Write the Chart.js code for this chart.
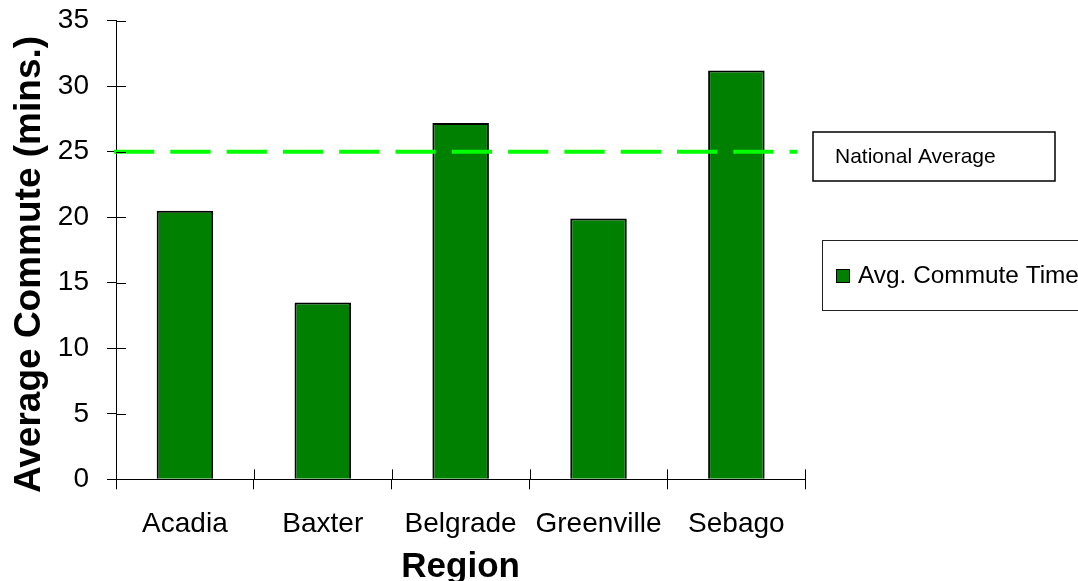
<!DOCTYPE html>
<html>
<head>
<meta charset="utf-8">
<title>Average Commute by Region</title>
<script src="https://cdn.jsdelivr.net/npm/chart.js@4/dist/chart.umd.min.js"></script>
<style>
  html, body { margin: 0; padding: 0; background: #ffffff; }
  #wrap { width: 1078px; height: 581px; position: relative; }
</style>
</head>
<body>
<div id="wrap"><canvas id="chart" width="1078" height="581"></canvas></div>
<script>
// Regions and their average one-way commute, in minutes
const regions = ['Acadia', 'Baxter', 'Belgrade', 'Greenville', 'Sebago'];
const commuteMinutes = [20.5, 13.5, 27.2, 19.9, 31.2];

// Reference level for the dashed line
const nationalAverage = 25;

// Value axis range and step
const yMin = 0;
const yMax = 35;
const yStep = 5;

// Titles and legend text
const xTitle = 'Region';
const yTitle = 'Average Commute (mins.)';
const seriesLabel = 'Avg. Commute Time';
const averageLabel = 'National Average';

const FONT = '"Liberation Sans", Arial, Helvetica, sans-serif';
const BAR_FILL = '#008000';
const LINE_GREEN = '#00ff00';

// Draws the cross-through halves of the tick marks, the national
// average line, the axis titles and the two legend boxes.
const decorations = {
  id: 'decorations',
  afterDatasetsDraw(chart) {
    const { ctx, chartArea, scales } = chart;
    const y = scales.y;
    const yAvg = y.getPixelForValue(nationalAverage);
    ctx.save();
    ctx.strokeStyle = LINE_GREEN;
    ctx.lineWidth = 4;
    ctx.lineCap = 'butt';
    ctx.setLineDash([40.3, 16]);
    ctx.beginPath();
    ctx.moveTo(chartArea.left - 2, yAvg);
    ctx.lineTo(chartArea.right - 8, yAvg);
    ctx.stroke();
    ctx.restore();
  },
  afterDraw(chart) {
    const { ctx, chartArea, scales } = chart;
    const x = scales.x;
    const y = scales.y;
    ctx.save();

    // inner halves of the tick marks
    ctx.strokeStyle = '#000';
    ctx.lineWidth = 1;
    ctx.beginPath();
    y.ticks.forEach(t => {
      const py = Math.round(y.getPixelForValue(t.value)) + 0.5;
      ctx.moveTo(chartArea.left, py);
      ctx.lineTo(chartArea.left + 10, py);
    });
    for (let i = 0; i <= regions.length; i++) {
      const px = Math.round(x.getPixelForValue(i - 0.5)) + 0.5;
      ctx.moveTo(px, chartArea.bottom);
      ctx.lineTo(px, chartArea.bottom - 10);
    }
    ctx.stroke();

    // axis titles
    ctx.fillStyle = '#000';
    ctx.font = 'bold 35px ' + FONT;
    ctx.textAlign = 'center';
    ctx.textBaseline = 'alphabetic';
    ctx.fillText(xTitle, (chartArea.left + chartArea.right) / 2, 576.5);

    ctx.save();
    ctx.translate(40, 264.5);
    ctx.rotate(-Math.PI / 2);
    ctx.font = 'bold 37px ' + FONT;
    ctx.fillText(yTitle, 0, 0);
    ctx.restore();

    // legend: national average
    ctx.textAlign = 'left';
    ctx.lineWidth = 1.5;
    ctx.strokeStyle = '#000';
    ctx.fillStyle = '#fff';
    ctx.fillRect(813, 132, 242, 49);
    ctx.strokeRect(813, 132, 242, 49);
    ctx.fillStyle = '#000';
    ctx.font = '21px ' + FONT;
    ctx.fillText(averageLabel, 835, 162.5);

    // legend: bar series
    ctx.lineWidth = 1;
    ctx.strokeStyle = '#222';
    ctx.fillStyle = '#fff';
    ctx.fillRect(822.5, 240.5, 300, 70);
    ctx.strokeRect(822.5, 240.5, 300, 70);
    ctx.fillStyle = BAR_FILL;
    ctx.fillRect(836.5, 269.5, 13, 13);
    ctx.strokeStyle = '#000';
    ctx.strokeRect(836.5, 269.5, 13, 13);
    ctx.fillStyle = '#000';
    ctx.font = '24.4px ' + FONT;
    ctx.fillText(seriesLabel, 858, 282.5);

    ctx.restore();
  }
};

new Chart(document.getElementById('chart'), {
  type: 'bar',
  data: {
    labels: regions,
    datasets: [{
      label: seriesLabel,
      data: commuteMinutes,
      backgroundColor: BAR_FILL,
      borderColor: '#000',
      borderWidth: 2,
      barPercentage: 0.41,
      categoryPercentage: 1
    }]
  },
  options: {
    responsive: false,
    animation: false,
    devicePixelRatio: 1,
    layout: { padding: { left: 0, top: 20.7, right: 272.7, bottom: 0 } },
    plugins: {
      legend: { display: false },
      tooltip: { enabled: false },
      title: { display: false }
    },
    scales: {
      x: {
        offset: true,
        grid: {
          offset: true,
          drawOnChartArea: false,
          drawTicks: true,
          tickLength: 10,
          color: '#000',
          lineWidth: 1
        },
        border: { display: true, color: '#000', width: 1 },
        ticks: {
          color: '#000',
          font: { family: FONT, size: 28 },
          padding: 18,
          maxRotation: 0,
          autoSkip: false
        },
        afterFit(scale) {
          scale.height = 101.7;
          scale.paddingLeft = 0;
          scale.paddingRight = 0;
        }
      },
      y: {
        min: yMin,
        max: yMax,
        grid: {
          drawOnChartArea: false,
          drawTicks: true,
          tickLength: 9,
          color: '#000',
          lineWidth: 1
        },
        border: { display: true, color: '#000', width: 1 },
        ticks: {
          stepSize: yStep,
          color: '#000',
          font: { family: FONT, size: 28 },
          padding: 18
        },
        afterFit(scale) {
          scale.width = 116;
          scale.paddingTop = 0;
          scale.paddingBottom = 0;
        }
      }
    }
  },
  plugins: [decorations]
});
</script>
</body>
</html>
